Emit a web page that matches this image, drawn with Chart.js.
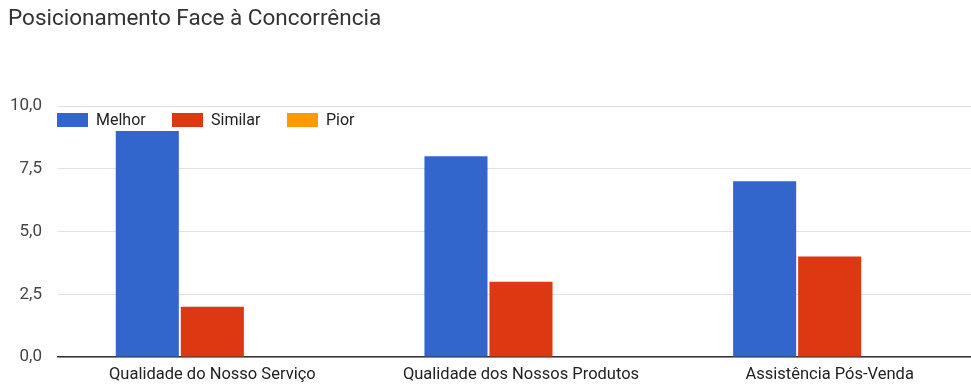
<!DOCTYPE html>
<html>
<head>
<meta charset="utf-8">
<script src="https://cdn.jsdelivr.net/npm/chart.js@4"></script>
<style>
  html, body { margin: 0; padding: 0; background: #fff; overflow: hidden; }
  #wrap { width: 984px; height: 385px; }
</style>
</head>
<body>
<div id="wrap"><canvas id="myChart" width="984" height="385"></canvas></div>
<script>
const categorias = [
  "Qualidade do Nosso Serviço",
  "Qualidade dos Nossos Produtos",
  "Assistência Pós-Venda",
];
const melhor = [9, 8, 7];
const similar = [2, 3, 4];
const pior = [0, 0, 0];
const seriesNomes = ["Melhor", "Similar", "Pior"];
const seriesCores = ["#3366cc", "#dc3912", "#ff9900"];

const FONT = "Roboto, Arial, sans-serif";

// legenda desenhada por cima da área do gráfico, alinhada à esquerda
const legendaInterna = {
  id: "legendaInterna",
  afterDraw(chart) {
    const ctx = chart.ctx;
    const area = chart.chartArea;
    let x = area.left - 1;
    const y = 113;
    ctx.save();
    ctx.font = "16px " + FONT;
    ctx.textBaseline = "middle";
    chart.data.datasets.forEach((ds) => {
      ctx.fillStyle = ds.backgroundColor;
      ctx.fillRect(x, y, 31, 14);
      ctx.fillStyle = "#222";
      ctx.fillText(ds.label, x + 39, y + 8);
      x += 115;
    });
    ctx.restore();
  },
};

const ctx = document.getElementById("myChart").getContext("2d");
new Chart(ctx, {
  type: "bar",
  data: {
    labels: categorias,
    datasets: [melhor, similar, pior].map((d, i) => ({
      label: seriesNomes[i],
      data: d,
      backgroundColor: seriesCores[i],
      categoryPercentage: 0.632,
      barPercentage: 0.97,
    })),
  },
  options: {
    responsive: false,
    animation: false,
    layout: { padding: { left: 8, right: 0, top: 0, bottom: 0 } },
    plugins: {
      legend: { display: false },
      tooltip: { enabled: false },
      title: {
        display: true,
        text: "Posicionamento Face à Concorrência",
        align: "start",
        color: "#333",
        font: { family: FONT, size: 22.5, weight: "normal" },
        padding: { top: 6, bottom: 73 },
      },
    },
    scales: {
      x: {
        afterFit(scale) { scale.height = 28; },
        grid: { display: false, drawTicks: false },
        border: { color: "#333", width: 1.5 },
        ticks: {
          color: "#222",
          padding: 8,
          maxRotation: 0,
          font: { family: FONT, size: 16.5 },
        },
      },
      y: {
        min: 0,
        max: 10,
        afterFit(scale) { scale.width = 50; },
        border: { display: false },
        grid: { color: "#e0e0e0", drawTicks: false },
        ticks: {
          stepSize: 2.5,
          color: "#444",
          padding: 16,
          font: { family: FONT, size: 17 },
          callback: (v) => v.toFixed(1).replace(".", ","),
        },
      },
    },
  },
  plugins: [legendaInterna],
});
</script>
</body>
</html>
